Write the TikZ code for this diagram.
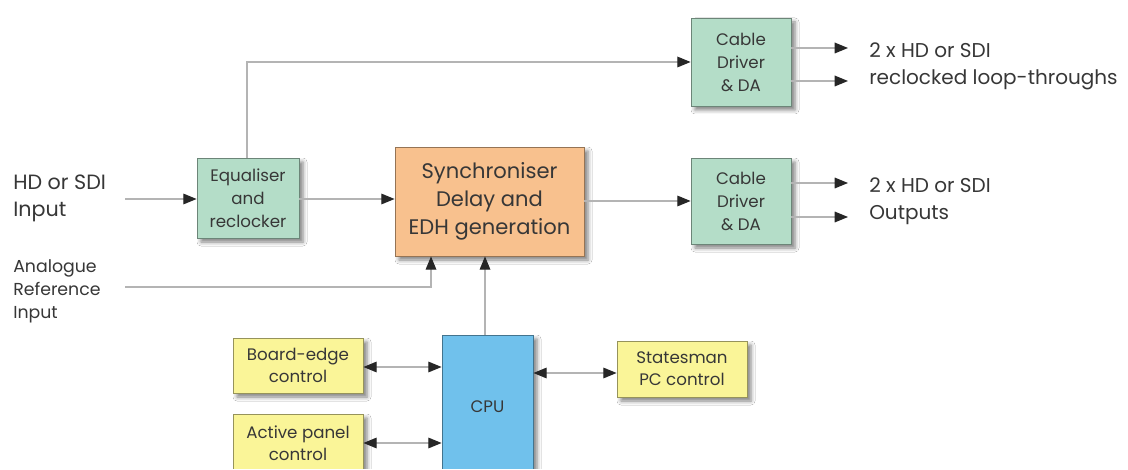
\documentclass[tikz,border=0pt]{standalone}
\usepackage{fontspec}
\setmainfont{Poppins}
\usetikzlibrary{arrows.meta,shadows.blur}
\definecolor{boxgreen}{RGB}{180,221,200}
\definecolor{boxorange}{RGB}{248,193,142}
\definecolor{boxblue}{RGB}{112,193,236}
\definecolor{boxyellow}{RGB}{250,245,152}
\definecolor{wire}{RGB}{180,180,180}
\definecolor{ink}{RGB}{55,55,55}
\tikzset{
  blk/.style={draw=#1!60!black, line width=0.6pt, fill=#1, align=center, inner sep=0pt,
    text=ink, font=\fontsize{12.5}{17.25}\selectfont,
    blur shadow={shadow xshift=3pt, shadow yshift=-3pt, shadow blur radius=3pt, shadow opacity=50}},
  wireline/.style={draw=wire, line width=0.9pt},
  tip/.style={wireline, -{Triangle[length=10pt,width=8pt]}, arrows={[color=black!85]}},
  bitip/.style={wireline, {Triangle[length=10pt,width=8pt]}-{Triangle[length=10pt,width=8pt]}, arrows={[color=black!85]}},
  lbl/.style={anchor=west, inner sep=0pt, text=ink, align=left},
}
\begin{document}
\begin{tikzpicture}[x=0.75pt,y=-0.75pt]
\useasboundingbox (0,0) rectangle (1128,470);
\fill[white] (0,0) rectangle (1128,470);
\begin{scope}
\clip (0,0) rectangle (1128,468);
% boxes
\node[blk=boxgreen, minimum width=76.5pt, minimum height=60pt] (eq) at (248,198) {Equaliser\\and\\reclocker};
\node[blk=boxorange, minimum width=141.75pt, minimum height=81.75pt, font=\fontsize{15.8}{21}\selectfont] (sync) at (489.5,201.5) {Synchroniser\\Delay and\\EDH generation};
\node[blk=boxgreen, minimum width=75pt, minimum height=66pt] (cab1) at (741,62) {Cable\\Driver\\\& DA};
\node[blk=boxgreen, minimum width=75pt, minimum height=64.5pt] (cab2) at (741,201) {Cable\\Driver\\\& DA};
\node[blk=boxblue, minimum width=68.25pt, minimum height=108pt] (cpu) at (487.5,407) {CPU};
\node[blk=boxyellow, minimum width=97.5pt, minimum height=41.25pt, font=\fontsize{12.5}{16.5}\selectfont] (board) at (298,365.5) {Board-edge\\control};
\node[blk=boxyellow, minimum width=97.5pt, minimum height=43.5pt, font=\fontsize{12.5}{16.5}\selectfont] (active) at (298,443) {Active panel\\control};
\node[blk=boxyellow, minimum width=97.5pt, minimum height=42pt, font=\fontsize{12.5}{16.5}\selectfont] (states) at (682,369) {Statesman\\PC control};
\end{scope}
% left labels
\node[lbl, font=\fontsize{15.5}{20.25}\selectfont] (inlbl) at (13,198.5) {HD or SDI\\Input};
\node[lbl, font=\fontsize{13}{17.25}\selectfont] (reflbl) at (13,291) {Analogue\\Reference\\Input};
% right labels
\node[lbl, font=\fontsize{15}{20.25}\selectfont] (out1) at (869,66.5) {2 x HD or SDI\\reclocked loop-throughs};
\node[lbl, font=\fontsize{15}{20.25}\selectfont] (out2) at (869,201.5) {2 x HD or SDI\\Outputs};
% free ends
\coordinate (inS) at (125,199);
\coordinate (refS) at (125,287);
\coordinate (o1a) at (848,48);
\coordinate (o1b) at (848,81);
\coordinate (o2a) at (848,183);
\coordinate (o2b) at (848,217);
% connectors
\draw[tip] (inS) -- (inS -| eq.west);
\draw[tip] (eq.east |- 0,199) -- (sync.west |- 0,199);
\draw[tip] (eq.north -| 247,0) -- (247,62) -- (cab1.west |- 0,62);
\draw[tip] (sync.east |- 0,201) -- (cab2.west |- 0,201);
\draw[tip] (refS) -- (431,287) -- (sync.south -| 431,0);
\draw[tip] (cpu.north -| 485,0) -- (sync.south -| 485,0);
\draw[tip] (cab1.east |- o1a) -- (o1a);
\draw[tip] (cab1.east |- o1b) -- (o1b);
\draw[tip] (cab2.east |- o2a) -- (o2a);
\draw[tip] (cab2.east |- o2b) -- (o2b);
\draw[bitip] (board.east |- 0,367) -- (cpu.west |- 0,367);
\draw[bitip] (active.east |- 0,443) -- (cpu.west |- 0,443);
\draw[bitip] (cpu.east |- 0,373) -- (states.west |- 0,373);
\end{tikzpicture}
\end{document}
